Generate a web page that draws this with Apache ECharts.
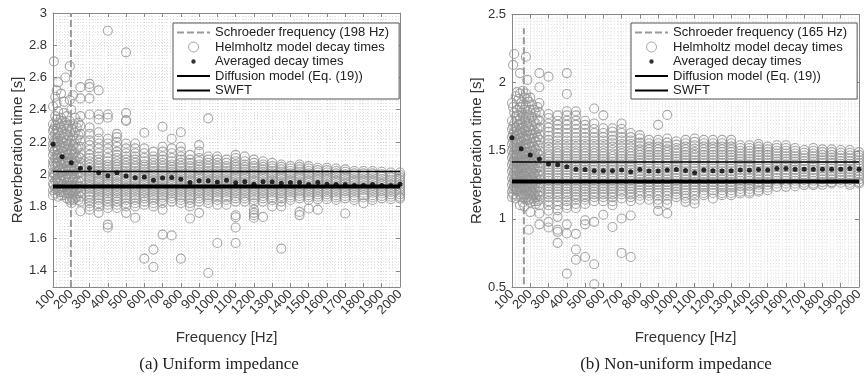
<!DOCTYPE html>
<html><head><meta charset="utf-8">
<script src="https://cdn.jsdelivr.net/npm/echarts@6/dist/echarts.min.js"></script>
<style>html,body{margin:0;padding:0;background:#fff}#c{width:866px;height:380px}</style>
</head><body><div id="c"></div>
<script>
// ---------- DATA ----------
const avgFreqs = [100,150,200,250,300,350,400,450,500,550,600,650,700,750,800,850,900,950,1000,1050,1100,1150,1200,1250,1300,1350,1400,1450,1500,1550,1600,1650,1700,1750,1800,1850,1900,1950,2000];
const avgA = [2.185,2.108,2.071,2.036,2.036,2.009,1.990,2.009,1.988,1.978,1.982,1.963,1.976,1.980,1.969,1.949,1.959,1.959,1.951,1.962,1.947,1.953,1.938,1.953,1.953,1.943,1.949,1.949,1.936,1.949,1.938,1.936,1.936,1.930,1.930,1.936,1.930,1.930,1.938];
const avgB = [1.596,1.515,1.468,1.439,1.402,1.397,1.382,1.365,1.363,1.353,1.353,1.353,1.358,1.346,1.363,1.351,1.351,1.358,1.363,1.355,1.338,1.358,1.353,1.351,1.353,1.358,1.356,1.363,1.358,1.370,1.370,1.365,1.365,1.365,1.365,1.365,1.365,1.370,1.365];

const diffusionA = 2.017, swftA = 1.923, schroederA = 198, schroederRangeA = [1.3, 3.0];
const diffusionB = 1.417, swftB = 1.275, schroederB = 165, schroederRangeB = [0.52, 2.40];
const xRange = [100, 2000];

// Helmholtz decay times: one column of values per frequency
const helmFreqsA = [100,105,112,120,128,136,144,152,160,168,176,184,192,200,210,220,230,240,250,300,350,400,450,500,550,600,650,700,750,800,850,900,950,1000,1050,1100,1150,1200,1250,1300,1350,1400,1450,1500,1550,1600,1650,1700,1750,1800,1850,1900,1950,2000];
const helmValsA = [
[2.42,2.31,2.27,2.23,2.19,2.16,2.12,2.08,2.05,2.01,1.98,1.94,1.90,1.87],
[2.70,2.28,2.21,2.14,2.07,2.00,1.93],
[2.48,2.36,2.30,2.25,2.20,2.15,2.10,2.05,2.00,1.96,1.91,1.88],
[2.52,2.44,2.34,2.28,2.22,2.17,2.12,2.07,2.02,1.97,1.92],
[2.57,2.39,2.32,2.26,2.20,2.15,2.10,2.05,2.00,1.95,1.90,1.86],
[2.31,2.24,2.18,2.13,2.08,2.03,1.98,1.94,1.89],
[2.50,2.35,2.29,2.22,2.16,2.11,2.06,2.01,1.96,1.91,1.87],
[2.33,2.26,2.20,2.14,2.09,2.04,1.99,1.94,1.89],
[2.45,2.38,2.30,2.23,2.17,2.12,2.07,2.02,1.97,1.92,1.87],
[2.60,2.32,2.25,2.19,2.13,2.08,2.03,1.98,1.93,1.88],
[2.36,2.28,2.21,2.15,2.10,2.05,2.00,1.95,1.90,1.85],
[2.30,2.24,2.18,2.12,2.07,2.02,1.97,1.92,1.88],
[2.67,2.46,2.33,2.26,2.19,2.13,2.08,2.03,1.98,1.93,1.88,1.84],
[2.40,2.28,2.21,2.15,2.10,2.05,2.00,1.95,1.90,1.86,1.82],
[2.49,2.31,2.24,2.18,2.12,2.07,2.02,1.97,1.92,1.88,1.84],
[2.35,2.26,2.19,2.13,2.08,2.03,1.98,1.93,1.89,1.85],
[2.29,2.22,2.16,2.10,2.05,2.00,1.95,1.91,1.86],
[2.32,2.24,2.17,2.11,2.06,2.01,1.96,1.92,1.88,1.84],
[2.54,2.47,2.36,2.30,2.25,2.21,2.17,2.13,2.10,2.07,2.04,2.01,1.98,1.95,1.92,1.89,1.86,1.83,1.77],
[2.56,2.54,2.47,2.37,2.29,2.25,2.21,2.18,2.15,2.12,2.10,2.08,2.06,2.04,2.025,2.01,1.995,1.98,1.965,1.95,1.935,1.92,1.905,1.89,1.875,1.86,1.84,1.82,1.80,1.78],
[2.52,2.37,2.34,2.26,2.22,2.19,2.16,2.13,2.11,2.09,2.07,2.05,2.035,2.02,2.005,1.99,1.975,1.96,1.945,1.93,1.915,1.90,1.885,1.87,1.855,1.84,1.82,1.80,1.76],
[2.89,2.37,2.35,2.22,2.19,2.16,2.13,2.10,2.08,2.06,2.045,2.03,2.015,2.00,1.985,1.97,1.955,1.94,1.925,1.91,1.895,1.88,1.865,1.85,1.83,1.81,1.79,1.687,1.669],
[2.25,2.23,2.20,2.17,2.14,2.12,2.10,2.08,2.06,2.045,2.03,2.015,2.00,1.985,1.97,1.955,1.94,1.925,1.91,1.895,1.88,1.865,1.85,1.83,1.81,1.79],
[2.756,2.38,2.336,2.33,2.19,2.16,2.13,2.11,2.09,2.07,2.05,2.035,2.02,2.005,1.99,1.975,1.96,1.945,1.93,1.915,1.90,1.885,1.87,1.855,1.84,1.82,1.80,1.76],
[2.19,2.16,2.13,2.11,2.09,2.07,2.05,2.035,2.02,2.005,1.99,1.975,1.96,1.945,1.93,1.915,1.90,1.885,1.87,1.855,1.84,1.82,1.80,1.73],
[2.257,2.16,2.13,2.10,2.08,2.06,2.045,2.03,2.015,2.00,1.985,1.97,1.955,1.94,1.925,1.91,1.895,1.88,1.865,1.85,1.83,1.81,1.476],
[2.14,2.11,2.09,2.07,2.05,2.035,2.02,2.005,1.99,1.975,1.96,1.945,1.93,1.915,1.90,1.885,1.87,1.855,1.84,1.82,1.80,1.532,1.424],
[2.294,2.17,2.14,2.11,2.09,2.07,2.05,2.035,2.02,2.005,1.99,1.975,1.96,1.945,1.93,1.915,1.90,1.885,1.87,1.855,1.84,1.82,1.78,1.625],
[2.22,2.16,2.13,2.10,2.08,2.06,2.045,2.03,2.015,2.00,1.985,1.97,1.955,1.94,1.925,1.91,1.895,1.88,1.865,1.85,1.83,1.62],
[2.26,2.17,2.14,2.11,2.09,2.07,2.05,2.035,2.02,2.005,1.99,1.975,1.96,1.945,1.93,1.915,1.90,1.885,1.87,1.855,1.84,1.82,1.476],
[2.12,2.09,2.07,2.05,2.035,2.02,2.005,1.99,1.975,1.96,1.945,1.93,1.915,1.90,1.885,1.87,1.855,1.84,1.82,1.80,1.725],
[2.18,2.14,2.10,2.08,2.06,2.045,2.03,2.015,2.00,1.985,1.97,1.955,1.94,1.925,1.91,1.895,1.88,1.865,1.85,1.83,1.76],
[2.346,2.11,2.09,2.07,2.05,2.035,2.02,2.005,1.99,1.975,1.96,1.945,1.93,1.915,1.90,1.885,1.87,1.855,1.84,1.82,1.387],
[2.11,2.09,2.07,2.05,2.035,2.02,2.005,1.99,1.975,1.96,1.945,1.93,1.915,1.90,1.885,1.87,1.855,1.84,1.81,1.573],
[2.09,2.07,2.05,2.035,2.02,2.005,1.99,1.975,1.96,1.945,1.93,1.915,1.90,1.885,1.87,1.855,1.84,1.81],
[2.12,2.10,2.08,2.06,2.045,2.03,2.015,2.00,1.985,1.97,1.955,1.94,1.925,1.91,1.895,1.88,1.865,1.85,1.83,1.745,1.733,1.669,1.573],
[2.11,2.08,2.06,2.045,2.03,2.015,2.00,1.985,1.97,1.955,1.94,1.925,1.91,1.895,1.88,1.865,1.85,1.83],
[2.09,2.07,2.05,2.035,2.02,2.005,1.99,1.975,1.96,1.945,1.93,1.915,1.90,1.885,1.87,1.855,1.84,1.82,1.78,1.76,1.745,1.73],
[2.08,2.06,2.045,2.03,2.015,2.00,1.985,1.97,1.955,1.94,1.925,1.91,1.895,1.88,1.865,1.85,1.83,1.735],
[2.07,2.05,2.035,2.02,2.005,1.99,1.975,1.96,1.945,1.93,1.915,1.90,1.885,1.87,1.855,1.84,1.80],
[2.06,2.045,2.03,2.015,2.00,1.985,1.97,1.955,1.94,1.925,1.91,1.895,1.88,1.865,1.85,1.83,1.80,1.538],
[2.05,2.035,2.02,2.005,1.99,1.975,1.96,1.945,1.93,1.915,1.90,1.885,1.87,1.855,1.84],
[2.06,2.045,2.03,2.015,2.00,1.985,1.97,1.955,1.94,1.925,1.91,1.895,1.88,1.865,1.85,1.766,1.746],
[2.05,2.035,2.02,2.005,1.99,1.975,1.96,1.945,1.93,1.915,1.90,1.885,1.87,1.855,1.84,1.787],
[2.04,2.025,2.01,1.995,1.98,1.965,1.95,1.935,1.92,1.905,1.89,1.875,1.86,1.845,1.78],
[2.04,2.025,2.01,1.995,1.98,1.965,1.95,1.935,1.92,1.905,1.89,1.875,1.86,1.845],
[2.035,2.02,2.005,1.99,1.975,1.96,1.945,1.93,1.915,1.90,1.885,1.87,1.855,1.84],
[2.03,2.015,2.00,1.985,1.97,1.955,1.94,1.925,1.91,1.895,1.88,1.865,1.85,1.756],
[2.02,2.005,1.99,1.975,1.96,1.945,1.93,1.915,1.90,1.885,1.87,1.855,1.84],
[2.02,2.005,1.99,1.975,1.96,1.945,1.93,1.915,1.90,1.885,1.87,1.855,1.82],
[2.02,2.005,1.99,1.975,1.96,1.945,1.93,1.915,1.90,1.885,1.87,1.855,1.84],
[2.015,2.00,1.985,1.97,1.955,1.94,1.925,1.91,1.895,1.88,1.865,1.85],
[2.01,1.995,1.98,1.965,1.95,1.935,1.92,1.905,1.89,1.875,1.86,1.845],
[2.01,1.995,1.98,1.965,1.95,1.935,1.92,1.905,1.89,1.875,1.86,1.85]
];

const helmFreqsB = [100,106,112,120,128,136,144,152,160,168,176,184,192,200,210,220,230,240,250,300,350,400,450,500,550,600,650,700,750,800,850,900,950,1000,1050,1100,1150,1200,1250,1300,1350,1400,1450,1500,1550,1600,1650,1700,1750,1800,1850,1900,1950,2000];
const helmValsB = [
[1.85,1.72,1.66,1.60,1.55,1.50,1.45,1.40,1.35,1.30,1.25,1.20,1.16],
[2.13,1.82,1.68,1.62,1.57,1.52,1.47,1.42,1.37,1.32,1.27,1.22,1.18],
[2.21,1.78,1.70,1.64,1.59,1.54,1.49,1.44,1.39,1.34,1.29,1.24],
[1.90,1.75,1.67,1.61,1.56,1.51,1.46,1.41,1.36,1.31,1.26,1.21,1.15],
[1.93,1.80,1.72,1.65,1.58,1.52,1.47,1.42,1.37,1.32,1.27,1.22,1.17],
[1.88,1.76,1.69,1.62,1.56,1.50,1.45,1.40,1.35,1.30,1.25,1.20],
[2.07,1.92,1.82,1.73,1.66,1.59,1.53,1.48,1.43,1.38,1.33,1.28,1.23,1.18,1.10],
[1.86,1.78,1.70,1.63,1.57,1.51,1.46,1.41,1.36,1.31,1.26,1.21,1.16],
[1.94,1.84,1.75,1.67,1.60,1.54,1.48,1.43,1.38,1.33,1.28,1.23,1.18,1.12],
[1.89,1.80,1.72,1.65,1.58,1.52,1.47,1.42,1.37,1.32,1.27,1.22,1.17,1.09],
[2.19,1.92,1.83,1.75,1.68,1.61,1.55,1.49,1.44,1.39,1.34,1.29,1.24,1.19,1.14],
[2.02,1.88,1.79,1.71,1.64,1.58,1.52,1.46,1.41,1.36,1.31,1.26,1.21,1.16],
[1.86,1.76,1.68,1.61,1.55,1.49,1.44,1.39,1.34,1.29,1.24,1.19,1.14,0.92],
[1.89,1.80,1.72,1.65,1.59,1.53,1.47,1.42,1.37,1.32,1.27,1.22,1.17,1.12,1.05],
[1.84,1.75,1.68,1.62,1.56,1.50,1.45,1.40,1.35,1.30,1.25,1.20,1.15],
[1.80,1.72,1.65,1.59,1.53,1.48,1.43,1.38,1.33,1.28,1.23,1.18,1.13],
[1.78,1.70,1.63,1.57,1.51,1.46,1.41,1.36,1.31,1.26,1.21,1.16,1.11],
[1.82,1.73,1.66,1.60,1.54,1.48,1.43,1.38,1.33,1.28,1.23,1.18,1.13],
[2.07,1.966,1.85,1.78,1.72,1.67,1.62,1.58,1.54,1.50,1.47,1.44,1.41,1.38,1.35,1.32,1.29,1.26,1.23,1.20,1.17,1.14,1.10,1.04,0.96],
[2.044,1.77,1.74,1.70,1.67,1.64,1.61,1.58,1.555,1.53,1.505,1.48,1.46,1.44,1.42,1.40,1.38,1.36,1.34,1.32,1.30,1.28,1.26,1.24,1.22,1.20,1.18,1.16,1.13,1.10,1.06,0.978,0.937],
[1.76,1.72,1.69,1.66,1.63,1.60,1.575,1.55,1.525,1.50,1.48,1.46,1.44,1.42,1.40,1.38,1.36,1.34,1.32,1.30,1.28,1.26,1.24,1.22,1.20,1.18,1.16,1.13,1.10,1.064,1.015,0.92,0.905,0.824],
[2.07,1.917,1.79,1.76,1.72,1.69,1.66,1.63,1.60,1.575,1.55,1.525,1.50,1.48,1.46,1.44,1.42,1.40,1.38,1.36,1.34,1.32,1.30,1.28,1.26,1.24,1.22,1.20,1.18,1.16,1.13,1.10,1.08,0.96,0.893,0.598],
[1.79,1.76,1.72,1.69,1.66,1.63,1.60,1.575,1.55,1.525,1.50,1.48,1.46,1.44,1.42,1.40,1.38,1.36,1.34,1.32,1.30,1.28,1.26,1.24,1.22,1.20,1.18,1.16,1.14,1.11,1.08,0.89,0.775,0.70],
[1.72,1.69,1.66,1.63,1.60,1.575,1.55,1.525,1.50,1.48,1.46,1.44,1.42,1.40,1.38,1.36,1.34,1.32,1.30,1.28,1.26,1.24,1.22,1.20,1.18,1.16,1.14,1.11,0.99,0.96,0.72],
[1.81,1.70,1.66,1.63,1.60,1.575,1.55,1.525,1.50,1.48,1.46,1.44,1.42,1.40,1.38,1.36,1.34,1.32,1.30,1.28,1.26,1.24,1.22,1.20,1.18,1.16,1.13,0.978,0.667,0.52],
[1.76,1.665,1.63,1.60,1.575,1.55,1.525,1.50,1.48,1.46,1.44,1.42,1.40,1.38,1.36,1.34,1.32,1.30,1.28,1.26,1.24,1.22,1.20,1.18,1.16,1.13,1.03],
[1.665,1.64,1.61,1.58,1.555,1.53,1.505,1.48,1.46,1.44,1.42,1.40,1.38,1.36,1.34,1.32,1.30,1.28,1.26,1.24,1.22,1.20,1.18,1.16,1.13,1.10,0.94],
[1.70,1.66,1.63,1.60,1.575,1.55,1.525,1.50,1.48,1.46,1.44,1.42,1.40,1.38,1.36,1.34,1.32,1.30,1.28,1.26,1.24,1.22,1.20,1.18,1.15,1.003,0.75],
[1.63,1.60,1.575,1.55,1.525,1.50,1.48,1.46,1.44,1.42,1.40,1.38,1.36,1.34,1.32,1.30,1.28,1.26,1.24,1.22,1.20,1.18,1.16,1.13,1.025,0.72],
[1.615,1.59,1.56,1.535,1.51,1.49,1.47,1.45,1.43,1.41,1.39,1.37,1.35,1.33,1.31,1.29,1.27,1.25,1.23,1.21,1.19,1.17,1.14],
[1.58,1.555,1.53,1.51,1.49,1.47,1.45,1.43,1.41,1.39,1.37,1.35,1.33,1.31,1.29,1.27,1.25,1.23,1.21,1.19,1.17,1.14],
[1.69,1.58,1.555,1.53,1.51,1.49,1.47,1.45,1.43,1.41,1.39,1.37,1.35,1.33,1.31,1.29,1.27,1.25,1.23,1.21,1.19,1.17,1.14,1.11,1.059],
[1.763,1.59,1.56,1.535,1.51,1.49,1.47,1.45,1.43,1.41,1.39,1.37,1.35,1.33,1.31,1.29,1.27,1.25,1.23,1.21,1.19,1.17,1.14,1.11,1.04],
[1.57,1.545,1.52,1.50,1.48,1.46,1.44,1.42,1.40,1.38,1.36,1.34,1.32,1.30,1.28,1.26,1.24,1.22,1.20,1.18,1.16],
[1.58,1.555,1.53,1.51,1.49,1.47,1.45,1.43,1.41,1.39,1.37,1.35,1.33,1.31,1.29,1.27,1.25,1.23,1.21,1.19,1.17,1.15,1.125],
[1.59,1.565,1.54,1.515,1.49,1.47,1.45,1.43,1.41,1.39,1.37,1.35,1.33,1.31,1.29,1.27,1.25,1.23,1.21,1.19,1.17,1.14,1.113],
[1.58,1.555,1.53,1.51,1.49,1.47,1.45,1.43,1.41,1.39,1.37,1.35,1.33,1.31,1.29,1.27,1.25,1.23,1.21,1.19,1.174],
[1.58,1.555,1.53,1.51,1.49,1.47,1.45,1.43,1.41,1.39,1.37,1.35,1.33,1.31,1.29,1.27,1.25,1.23,1.21,1.19,1.15],
[1.58,1.555,1.53,1.51,1.49,1.47,1.45,1.43,1.41,1.39,1.37,1.35,1.33,1.31,1.29,1.27,1.25,1.23,1.21,1.19,1.174],
[1.58,1.555,1.53,1.51,1.49,1.47,1.45,1.43,1.41,1.39,1.37,1.35,1.33,1.31,1.29,1.27,1.25,1.23,1.21,1.19,1.174],
[1.54,1.52,1.50,1.48,1.46,1.44,1.42,1.40,1.38,1.36,1.34,1.32,1.30,1.28,1.26,1.24,1.22,1.20,1.186],
[1.54,1.52,1.50,1.48,1.46,1.44,1.42,1.40,1.38,1.36,1.34,1.32,1.30,1.28,1.26,1.24,1.22,1.20,1.186],
[1.55,1.53,1.51,1.49,1.47,1.45,1.43,1.41,1.39,1.37,1.35,1.33,1.31,1.29,1.27,1.25,1.23,1.21,1.199],
[1.53,1.51,1.49,1.47,1.45,1.43,1.41,1.39,1.37,1.35,1.33,1.31,1.29,1.27,1.25,1.23,1.21],
[1.54,1.52,1.50,1.48,1.46,1.44,1.42,1.40,1.38,1.36,1.34,1.32,1.30,1.28,1.26,1.235],
[1.54,1.52,1.50,1.48,1.46,1.44,1.42,1.40,1.38,1.36,1.34,1.32,1.30,1.28,1.26,1.235],
[1.52,1.50,1.48,1.46,1.44,1.42,1.40,1.38,1.36,1.34,1.32,1.30,1.28,1.26,1.24],
[1.505,1.485,1.465,1.445,1.425,1.405,1.385,1.365,1.345,1.325,1.305,1.285,1.265,1.248],
[1.52,1.50,1.48,1.46,1.44,1.42,1.40,1.38,1.36,1.34,1.32,1.30,1.28,1.26,1.248],
[1.51,1.49,1.47,1.45,1.43,1.41,1.39,1.37,1.35,1.33,1.31,1.29,1.27,1.25],
[1.51,1.49,1.47,1.45,1.43,1.41,1.39,1.37,1.35,1.33,1.31,1.29,1.27,1.26],
[1.505,1.485,1.465,1.445,1.425,1.405,1.385,1.365,1.345,1.325,1.305,1.285,1.265],
[1.505,1.485,1.465,1.445,1.425,1.405,1.385,1.365,1.345,1.325,1.305,1.285,1.265,1.25],
[1.49,1.47,1.45,1.43,1.41,1.39,1.37,1.35,1.33,1.31,1.29,1.27,1.26]
];

const yTicksA = [1.4,1.6,1.8,2,2.2,2.4,2.6,2.8,3];
const yTicksB = [0.5,1,1.5,2,2.5];

// ---------- BUILD ----------
const FONT = "'Liberation Sans', Arial, Helvetica, sans-serif";
const GRAY = '#929292';
function flatten(freqs, vals) {
  const out = [];
  freqs.forEach((f, i) => vals[i].forEach(v => out.push([f, v])));
  return out;
}
function pairs(xs, ys) { return xs.map((x, i) => [x, ys[i]]); }

const minorLine = {show: true, lineStyle: {color: '#e4e4e4', type: [1, 2], width: 1}};
const majorLine = {show: true, lineStyle: {color: '#d6d6d6', type: [1, 2], width: 1}};

function xAxes(gi) {
  return [{
    type: 'value', gridIndex: gi, min: xRange[0], max: xRange[1], interval: 100, position: 'bottom',
    axisLine: {show: true, onZero: false, lineStyle: {color: '#888', width: 1}},
    axisTick: {show: true, inside: true, length: 4, lineStyle: {color: '#888'}},
    axisLabel: {rotate: 45, fontSize: 13, color: '#333', fontFamily: FONT, margin: 5, formatter: v => String(v)},
    splitLine: majorLine, minorTick: {show: false, splitNumber: 5}, minorSplitLine: minorLine,
    name: 'Frequency [Hz]', nameLocation: 'middle', nameGap: 43,
    nameTextStyle: {fontSize: 15, color: '#333', fontFamily: FONT}
  }, {
    type: 'value', gridIndex: gi, min: xRange[0], max: xRange[1], interval: 100, position: 'top',
    axisLine: {show: true, onZero: false, lineStyle: {color: '#888', width: 1}},
    axisTick: {show: true, inside: true, length: 4, lineStyle: {color: '#888'}},
    axisLabel: {show: false}, splitLine: {show: false}
  }];
}
function yAxes(gi, min, max, interval, minorSplit, ticks) {
  return [{
    type: 'value', gridIndex: gi, min, max, interval, position: 'left',
    axisLine: {show: true, onZero: false, lineStyle: {color: '#888', width: 1}},
    axisTick: {show: true, inside: true, length: 4, customValues: ticks, lineStyle: {color: '#888'}},
    axisLabel: {fontSize: 13, color: '#333', fontFamily: FONT, margin: 6, customValues: ticks},
    splitLine: majorLine, minorTick: {show: false, splitNumber: minorSplit}, minorSplitLine: minorLine,
    name: 'Reverberation time [s]', nameLocation: 'middle', nameRotate: 90, nameGap: 27,
    nameTextStyle: {fontSize: 15, color: '#333', fontFamily: FONT}
  }, {
    type: 'value', gridIndex: gi, min, max, interval, position: 'right',
    axisLine: {show: true, onZero: false, lineStyle: {color: '#888', width: 1}},
    axisTick: {show: true, inside: true, length: 4, customValues: ticks, lineStyle: {color: '#888'}},
    axisLabel: {show: false}, splitLine: {show: false}
  }];
}

const HELM = 'Helmholtz model decay times', AVG = 'Averaged decay times',
      DIFF = 'Diffusion model (Eq. (19))', SWFT = 'SWFT';
function panelSeries(xi, yi, schName, schF, schR, helm, avg, diff, swft) {
  return [
    {name: HELM, type: 'scatter', xAxisIndex: xi, yAxisIndex: yi, symbol: 'circle', symbolSize: 9,
     itemStyle: {color: 'rgba(0,0,0,0)', borderColor: GRAY, borderWidth: 1.1}, data: helm, z: 2, silent: true},
    {name: schName, type: 'line', xAxisIndex: xi, yAxisIndex: yi, symbol: 'none',
     lineStyle: {color: '#999', width: 2, type: [7, 3]}, itemStyle: {color: '#999'},
     data: [[schF, schR[0]], [schF, schR[1]]], z: 3, silent: true},
    {name: DIFF, type: 'line', xAxisIndex: xi, yAxisIndex: yi, symbol: 'none',
     lineStyle: {color: '#000', width: 1.5}, itemStyle: {color: '#000'},
     data: [[xRange[0], diff], [xRange[1], diff]], z: 4, silent: true},
    {name: SWFT, type: 'line', xAxisIndex: xi, yAxisIndex: yi, symbol: 'none',
     lineStyle: {color: '#000', width: 4}, itemStyle: {color: '#000'},
     data: [[xRange[0], swft], [xRange[1], swft]], z: 4, silent: true},
    {name: AVG, type: 'scatter', xAxisIndex: xi, yAxisIndex: yi, symbol: 'circle', symbolSize: 5,
     itemStyle: {color: '#000'}, data: avg, z: 5, silent: true}
  ];
}
const DOT = 'path://M0,0M10,10M2.8,5a2.2,2.2 0 1,0 4.4,0a2.2,2.2 0 1,0 -4.4,0Z';
const NOSYM = {opacity: 0};
function mkLegend(schName, left) {
  return {
    orient: 'vertical', left, top: 23, itemWidth: 33, itemHeight: 10, itemGap: 1.5,
    padding: [3, 10, 2, 3], backgroundColor: '#fff', borderColor: '#555', borderWidth: 1,
    selectedMode: false, z: 10, symbolKeepAspect: true,
    textStyle: {fontSize: 13, color: '#222', fontFamily: FONT},
    data: [
      {name: schName, itemStyle: NOSYM},
      {name: HELM, icon: 'circle', itemStyle: {color: 'rgba(0,0,0,0)', borderColor: GRAY, borderWidth: 1}},
      {name: AVG, icon: DOT, itemStyle: {color: '#000'}},
      {name: DIFF, itemStyle: NOSYM},
      {name: SWFT, itemStyle: NOSYM}
    ]
  };
}

const schNameA = 'Schroeder frequency (' + schroederA + ' Hz)';
const schNameB = 'Schroeder frequency (' + schroederB + ' Hz)';

const option = {
  animation: false,
  backgroundColor: '#fff',
  grid: [
    {left: 53, top: 13, width: 347, height: 274},
    {left: 512, top: 14.5, width: 347, height: 272.5}
  ],
  xAxis: [...xAxes(0), ...xAxes(1)],
  yAxis: [...yAxes(0, 1.3, 3.0, 0.1, 5, yTicksA), ...yAxes(1, 0.5, 2.5, 0.5, 20, yTicksB)],
  legend: [mkLegend(schNameA, 173), mkLegend(schNameB, 631)],
  series: [
    ...panelSeries(0, 0, schNameA, schroederA, schroederRangeA, flatten(helmFreqsA, helmValsA), pairs(avgFreqs, avgA), diffusionA, swftA),
    ...panelSeries(2, 2, schNameB, schroederB, schroederRangeB, flatten(helmFreqsB, helmValsB), pairs(avgFreqs, avgB), diffusionB, swftB)
  ],
  graphic: [
    {type: 'text', x: 219, y: 365, style: {text: '(a) Uniform impedance', font: '17px "Liberation Serif", "DejaVu Serif", serif', fill: '#222', align: 'center', verticalAlign: 'middle', textAlign: 'center', textVerticalAlign: 'middle'}},
    {type: 'text', x: 676, y: 365, style: {text: '(b) Non-uniform impedance', font: '17px "Liberation Serif", "DejaVu Serif", serif', fill: '#222', align: 'center', verticalAlign: 'middle', textAlign: 'center', textVerticalAlign: 'middle'}}
  ]
};
const chart = echarts.init(document.getElementById('c'), null, {renderer: 'canvas'});
chart.setOption(option);
</script></body></html>
